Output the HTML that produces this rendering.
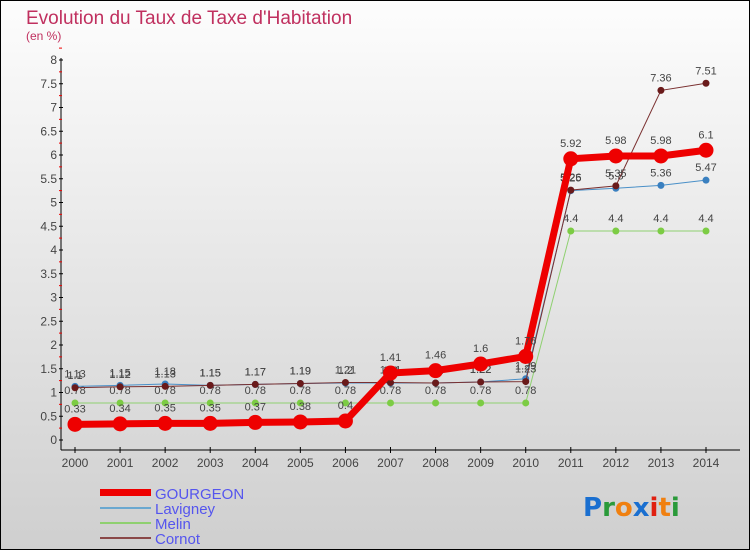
<!DOCTYPE html>
<html><head><meta charset="utf-8"><style>
body{margin:0}
#c{width:750px;height:550px;position:relative;font-family:"Liberation Sans",sans-serif;}
</style></head><body>
<div id="c">
<svg width="750" height="550" xmlns="http://www.w3.org/2000/svg" id="svg">
<defs><linearGradient id="bg" x1="0" y1="0" x2="0" y2="1"><stop offset="0" stop-color="#fdfdfd"/><stop offset="1" stop-color="#cfcfcf"/></linearGradient></defs>
<rect x="0.5" y="0.5" width="749" height="549" fill="url(#bg)" stroke="#000"/>
<text x="26" y="24" font-size="19" fill="#c0305f">Evolution du Taux de Taxe d'Habitation</text>
<text x="26" y="40" font-size="12" fill="#c0305f">(en %)</text>
<g id="axes"></g><g id="marks"></g>
<g>
<rect x="100" y="489" width="51" height="7" fill="#e00"/>
<line x1="100" y1="508" x2="151" y2="508" stroke="#6aa8d0" stroke-width="2"/>
<line x1="100" y1="523" x2="151" y2="523" stroke="#8fd070" stroke-width="2"/>
<line x1="100" y1="538" x2="151" y2="538" stroke="#8a4848" stroke-width="2"/>
<g font-size="15" fill="#5555ee">
<text x="155" y="499">GOURGEON</text>
<text x="155" y="514">Lavigney</text>
<text x="155" y="529">Melin</text>
<text x="155" y="544">Cornot</text>
</g></g>
<g font-size="26" font-family="DejaVu Sans, sans-serif" font-weight="bold">
<text x="583" y="516"><tspan fill="#1a6fd0">P</tspan><tspan fill="#2a9a3a">r</tspan><tspan fill="#f08010">o</tspan><tspan fill="#1a6fd0">x</tspan><tspan fill="#e02010">i</tspan><tspan fill="#f08010">t</tspan><tspan fill="#2a9a3a">i</tspan></text>
</g>
</svg></div>
<script>
const years=[2000,2001,2002,2003,2004,2005,2006,2007,2008,2009,2010,2011,2012,2013,2014];
const yTicks=[0,0.5,1,1.5,2,2.5,3,3.5,4,4.5,5,5.5,6,6.5,7,7.5,8];
const gourgeon=[0.33,0.34,0.35,0.35,0.37,0.38,0.4,1.41,1.46,1.6,1.76,5.92,5.98,5.98,6.1];
const lavigney=[1.13,1.15,1.18,1.15,1.17,1.19,1.2,1.2,1.2,1.22,1.29,5.25,5.3,5.36,5.47];
const melin=[0.78,0.78,0.78,0.78,0.78,0.78,0.78,0.78,0.78,0.78,0.78,4.4,4.4,4.4,4.4];
const cornot=[1.1,1.12,1.13,1.15,1.17,1.19,1.21,1.21,1.2,1.22,1.23,5.26,5.35,7.36,7.51];
const NS="http://www.w3.org/2000/svg";
const xS=i=>75+i*(706-75)/(years.length-1);
const yS=v=>440-v*47.5;
function mk(tag,attrs,parent){const e=document.createElementNS(NS,tag);for(const k in attrs)e.setAttribute(k,attrs[k]);parent.appendChild(e);return e;}
const axes=document.getElementById('axes'),marks=document.getElementById('marks');
let ya=mk('line',{x1:61,y1:58,x2:61,y2:450,stroke:'#000'},axes);


let xa=mk('line',{x1:61,y1:450,x2:740,y2:450,stroke:'#000'},axes);


yTicks.forEach(v=>{
 const y=yS(v);
 mk('line',{x1:59,y1:y,x2:63,y2:y,stroke:'#000'},axes);
 mk('line',{x1:59,y1:y-11.9,x2:62,y2:y-11.9,stroke:'#e00'},axes);
 const t=mk('text',{x:57,y:y+4,'font-size':12,fill:'#444','text-anchor':'end'},axes);
 t.textContent=String(v);
 
 
});
years.forEach((yr,i)=>{
 const x=xS(i);
 mk('line',{x1:x,y1:447,x2:x,y2:453,stroke:'#000'},axes);
 const t=mk('text',{x:x,y:467,'font-size':12,fill:'#444','text-anchor':'middle'},axes);
 t.textContent=String(yr);
 
 
});
const series=[
 {name:'melin',d:melin,c:'#8fd070',pc:'#7ccc44',w:1,r:3.5},
 {name:'lavigney',d:lavigney,c:'#4a90c8',pc:'#3a80c0',w:1,r:3.5},
 {name:'cornot',d:cornot,c:'#7a3030',pc:'#6a1a1a',w:1,r:3.5},
 {name:'gourgeon',d:gourgeon,c:'#ee0000',pc:'#ee0000',w:7,r:7.5}
];
series.forEach(s=>{
 const g=mk('g',{},marks);
 
 
 const pts=s.d.map((v,i)=>xS(i)+','+yS(v)).join(' ');
 const pl=mk('polyline',{points:pts,fill:'none',stroke:s.c,'stroke-width':s.w},g);
 
 
 s.d.forEach((v,i)=>{
  const c=mk('circle',{cx:xS(i),cy:yS(v),r:s.r,fill:s.pc},g);
  
  
  const t=mk('text',{x:xS(i),y:yS(v)-(s.w>2?12:9),'font-size':11,fill:'#444','text-anchor':'middle'},g);
  t.textContent=String(v);
  
  
 });
});
</script>
</body></html>
